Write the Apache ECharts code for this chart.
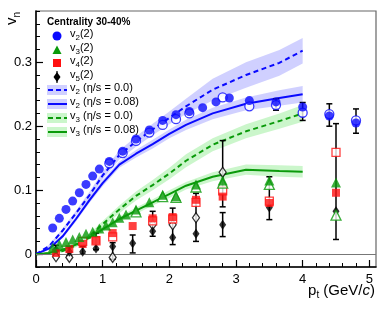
<!DOCTYPE html>
<html>
<head>
<meta charset="utf-8">
<script src="https://cdn.jsdelivr.net/npm/echarts@6/dist/echarts.min.js"></script>
<style>
html,body{margin:0;padding:0;background:#fff;}
#chart{width:386px;height:309px;}
</style>
</head>
<body>
<div id="chart"></div>
<script>
// ---------------- DATA ----------------
const xTickLabels = [0, 1, 2, 3, 4, 5];
const yTickLabels = [0, 0.1, 0.2, 0.3];

// v2{2}
const v2Filled = [[0.25,0.041],[0.35,0.056],[0.45,0.070],[0.55,0.083],[0.65,0.096],[0.75,0.109],[0.85,0.122],[0.95,0.133],[1.1,0.145],[1.3,0.161],[1.5,0.180],[1.7,0.194],[1.9,0.209],[2.1,0.218],[2.3,0.223],[2.5,0.229],[2.7,0.238],[2.9,0.244],[3.2,0.240],[3.6,0.238],[4.0,0.230],[4.4,0.216],[4.8,0.205]];
const v2Open = [[1.1,0.142],[1.3,0.158],[1.5,0.177],[1.7,0.190],[1.9,0.202],[2.1,0.211],[2.3,0.220],[2.8,0.245],[3.2,0.231],[3.6,0.233],[4.0,0.221],[4.4,0.219],[4.8,0.209]];
// v3{2}
const v3Filled = [[0.25,0.010],[0.35,0.015],[0.45,0.019],[0.55,0.023],[0.65,0.027],[0.75,0.032],[0.85,0.035],[0.95,0.040],[1.05,0.045],[1.15,0.050],[1.25,0.057],[1.35,0.062],[1.5,0.070],[1.7,0.081],[1.9,0.093],[2.1,0.091],[2.4,0.109],[2.8,0.115],[3.5,0.115],[4.5,0.112]];
const v3Open = [[1.5,0.066],[1.9,0.090],[2.1,0.089],[2.4,0.105],[2.8,0.111],[3.5,0.109],[4.5,0.061]];
// v4{2}
const v4Filled = [[0.3,0.002],[0.5,0.008],[0.7,0.016],[0.9,0.022],[1.15,0.033],[1.45,0.044],[1.75,0.056],[2.05,0.058],[2.4,0.085],[2.8,0.090],[3.5,0.080],[4.5,0.096]];
const v4Open = [[0.7,0.020],[0.9,0.021],[1.15,0.027],[1.75,0.052],[2.05,0.055],[2.4,0.081],[2.8,0.099],[3.5,0.083],[4.5,0.159]];
// v5{2}
const v5Filled = [[0.3,0.007],[0.5,0.004],[0.7,0.004],[0.9,0.009],[1.15,0.012],[1.45,0.017],[1.75,0.036],[2.05,0.026],[2.4,0.032],[2.8,0.046],[3.5,0.073],[4.5,0.067]];
const v5Open = [[0.3,-0.004],[0.5,-0.005],[1.15,-0.005],[1.75,0.046],[2.05,0.046],[2.4,0.057],[2.8,0.128]];
// error bars [x, low, high]
const errBlack = [[0.3,-0.002,0.014],[0.5,-0.002,0.012],[0.7,0.000,0.012],[0.9,0.007,0.033],[1.15,-0.008,0.018],[1.45,0.002,0.030],[1.75,0.028,0.067],[2.05,0.015,0.072],[2.4,0.020,0.095],[2.8,0.074,0.1775],[2.8,0.0275,0.065],[3.5,0.054,0.121],[4.5,0.023,0.204],[3.6,0.225,0.243],[4.0,0.209,0.237],[4.4,0.200,0.235],[4.8,0.189,0.227]];

// hydro calculations
const thX       = [0, 0.2, 0.4, 0.6, 0.8, 1.0, 1.25, 1.5, 1.75, 2.0, 2.25, 2.65, 3.15, 3.65, 4.0];
const v2Ideal   = [0, 0.013, 0.037, 0.064, 0.092, 0.123, 0.155, 0.176, 0.195, 0.213, 0.231, 0.257, 0.280, 0.299, 0.318];
const v2IdealW  = [0, 0.002, 0.003, 0.004, 0.005, 0.006, 0.007, 0.008, 0.009, 0.010, 0.012, 0.017, 0.020, 0.020, 0.020];
const v2Visc    = [0, 0.009, 0.028, 0.055, 0.084, 0.111, 0.140, 0.157, 0.172, 0.188, 0.202, 0.220, 0.235, 0.244, 0.250];
const v2ViscW   = [0, 0.002, 0.003, 0.004, 0.004, 0.005, 0.005, 0.006, 0.007, 0.007, 0.008, 0.009, 0.010, 0.012, 0.013];
const v3Ideal   = [0, 0.001, 0.005, 0.014, 0.028, 0.047, 0.070, 0.091, 0.108, 0.126, 0.146, 0.171, 0.192, 0.208, 0.220];
const v3IdealW  = [0, 0.001, 0.002, 0.003, 0.004, 0.005, 0.006, 0.007, 0.008, 0.009, 0.010, 0.010, 0.011, 0.012, 0.013];
const v3Visc    = [0, 0.002, 0.007, 0.015, 0.026, 0.039, 0.055, 0.068, 0.081, 0.094, 0.107, 0.121, 0.132, 0.130, 0.129];
const v3ViscW   = [0, 0.001, 0.002, 0.003, 0.003, 0.004, 0.004, 0.005, 0.005, 0.006, 0.006, 0.007, 0.008, 0.009, 0.009];

// ---------------- STYLE ----------------
const BLUE = '#0a0aff', GREEN = '#0a9a0a', RED = '#ff1010', BLACK = '#000';
const BLUE_BAND = 'rgba(150,150,255,0.45)', GREEN_BAND = 'rgba(140,235,140,0.45)';
const FONT = 'Liberation Sans, Arial, Helvetica, sans-serif';

const chart = echarts.init(document.getElementById('chart'), null, {renderer: 'canvas'});

function bandSeries(center, half, color) {
  const rows = thX.map((x, i) => [x, center[i] - half[i], center[i] + half[i]]);
  return {
    type: 'custom', silent: true, z: 1,
    data: rows,
    renderItem: function (params, api) {
      if (params.dataIndex !== 0) return null;
      const up = rows.map(r => api.coord([r[0], r[2]]));
      const lo = rows.map(r => api.coord([r[0], r[1]])).reverse();
      return {type: 'polygon', shape: {points: up.concat(lo)}, style: {fill: color}};
    }
  };
}
function curveSeries(center, color, dashed) {
  return {
    type: 'line', silent: true, z: 3, symbol: 'none',
    data: thX.map((x, i) => [x, center[i]]),
    lineStyle: {color: color, width: 2, type: dashed ? [5, 3.5] : 'solid'}
  };
}
function scatter(data, symbol, size, color, open, z) {
  return {
    type: 'scatter', data: data, symbol: symbol, symbolSize: size, z: z || 6,
    itemStyle: open ? {color: '#fff', borderColor: color, borderWidth: 1.3} : {color: color, borderWidth: 0},
    silent: true
  };
}

const series = [
  bandSeries(v2Ideal, v2IdealW, BLUE_BAND),
  bandSeries(v2Visc, v2ViscW, BLUE_BAND),
  bandSeries(v3Ideal, v3IdealW, GREEN_BAND),
  bandSeries(v3Visc, v3ViscW, GREEN_BAND),
  curveSeries(v2Ideal, BLUE, true),
  curveSeries(v2Visc, BLUE, false),
  curveSeries(v3Ideal, GREEN, true),
  curveSeries(v3Visc, GREEN, false),
  {
    type: 'custom', silent: true, z: 4, data: errBlack,
    renderItem: function (params, api) {
      const x = api.value(0), lo = api.value(1), hi = api.value(2);
      const a = api.coord([x, hi]), b = api.coord([x, lo]);
      const w = 3;
      const st = {stroke: BLACK, lineWidth: 1.5};
      return {type: 'group', children: [
        {type: 'line', shape: {x1: a[0], y1: a[1], x2: b[0], y2: b[1]}, style: st},
        {type: 'line', shape: {x1: a[0] - w, y1: a[1], x2: a[0] + w, y2: a[1]}, style: st},
        {type: 'line', shape: {x1: b[0] - w, y1: b[1], x2: b[0] + w, y2: b[1]}, style: st}
      ]};
    }
  },
  scatter(v5Open, 'diamond', [7, 10], BLACK, true, 5),
  scatter(v5Filled, 'diamond', [7, 10], BLACK, false, 5),
  scatter(v4Open, 'rect', 8, RED, true, 6),
  scatter(v4Filled, 'rect', 8, RED, false, 6),
  scatter(v3Open, 'triangle', 10, GREEN, true, 7),
  scatter(v3Filled, 'triangle', 10, GREEN, false, 7),
  scatter(v2Open, 'circle', 9, BLUE, true, 8),
  scatter(v2Filled, 'circle', 9, BLUE, false, 8),
  {
    type: 'line', data: [], silent: true, z: 2,
    markLine: {silent: true, symbol: 'none', label: {show: false},
      lineStyle: {color: '#777', width: 1, type: 'solid'},
      data: [{yAxis: 0}]}
  }
];

// Legend (drawn as graphic)
const legX = 57, txtX = 70;
const rowsY = [36, 50, 63, 77, 90, 104, 118, 132];
const rich = {
  a: {fontSize: 11, fontFamily: FONT, lineHeight: 16, fill: '#000'},
  b: {fontSize: 8, fontFamily: FONT, lineHeight: 8, verticalAlign: 'bottom', fill: '#000'}
};
function legText(y, str) {
  return {type: 'text', left: txtX, top: y - 8, z: 100,
    style: {text: str, rich: rich, fill: '#000'}};
}
const graphics = [
  {type: 'text', left: 47, top: 17, z: 100, style: {text: 'Centrality 30-40%', font: 'bold 10px ' + FONT, fill: '#000'}},
  // markers
  {type: 'circle', shape: {cx: legX, cy: rowsY[0], r: 4.5}, style: {fill: BLUE}, z: 100},
  {type: 'polygon', shape: {points: [[legX - 4.5, rowsY[1] + 4], [legX + 4.5, rowsY[1] + 4], [legX, rowsY[1] - 4.5]]}, style: {fill: GREEN}, z: 100},
  {type: 'rect', shape: {x: legX - 4, y: rowsY[2] - 4, width: 8, height: 8}, style: {fill: RED}, z: 100},
  {type: 'polygon', shape: {points: [[legX, rowsY[3] - 5], [legX + 3.5, rowsY[3]], [legX, rowsY[3] + 5], [legX - 3.5, rowsY[3]]]}, style: {fill: BLACK}, z: 100},
  {type: 'line', shape: {x1: legX, y1: rowsY[3] - 6, x2: legX, y2: rowsY[3] + 6}, style: {stroke: BLACK, lineWidth: 1.2}, z: 100},
  // bands + lines
  {type: 'rect', shape: {x: 47, y: rowsY[4] - 5, width: 20, height: 10}, style: {fill: BLUE_BAND}, z: 99},
  {type: 'line', shape: {x1: 48, y1: rowsY[4], x2: 67, y2: rowsY[4]}, style: {stroke: BLUE, lineWidth: 2, lineDash: [5, 3]}, z: 100},
  {type: 'rect', shape: {x: 47, y: rowsY[5] - 5, width: 20, height: 10}, style: {fill: BLUE_BAND}, z: 99},
  {type: 'line', shape: {x1: 48, y1: rowsY[5], x2: 67, y2: rowsY[5]}, style: {stroke: BLUE, lineWidth: 2}, z: 100},
  {type: 'rect', shape: {x: 47, y: rowsY[6] - 5, width: 20, height: 10}, style: {fill: GREEN_BAND}, z: 99},
  {type: 'line', shape: {x1: 48, y1: rowsY[6], x2: 67, y2: rowsY[6]}, style: {stroke: GREEN, lineWidth: 2, lineDash: [5, 3]}, z: 100},
  {type: 'rect', shape: {x: 47, y: rowsY[7] - 5, width: 20, height: 10}, style: {fill: GREEN_BAND}, z: 99},
  {type: 'line', shape: {x1: 48, y1: rowsY[7], x2: 67, y2: rowsY[7]}, style: {stroke: GREEN, lineWidth: 2}, z: 100},
  legText(rowsY[0], '{a|v}{b|2}{a|(2)}'),
  legText(rowsY[1], '{a|v}{b|3}{a|(2)}'),
  legText(rowsY[2], '{a|v}{b|4}{a|(2)}'),
  legText(rowsY[3], '{a|v}{b|5}{a|(2)}'),
  legText(rowsY[4], '{a|v}{b|2}{a| (η/s = 0.0)}'),
  legText(rowsY[5], '{a|v}{b|2}{a| (η/s = 0.08)}'),
  legText(rowsY[6], '{a|v}{b|3}{a| (η/s = 0.0)}'),
  legText(rowsY[7], '{a|v}{b|3}{a| (η/s = 0.08)}'),
  // axis titles
  {type: 'text', x: 2, y: 25, rotation: Math.PI / 2, z: 100,
    style: {text: '{a|v}{b|n}', rich: {
      a: {fontSize: 15, fontFamily: FONT, lineHeight: 20, fill: '#000'},
      b: {fontSize: 10, fontFamily: FONT, lineHeight: 10, verticalAlign: 'bottom', fill: '#000'}}}},
  {type: 'text', right: 11, top: 283, z: 100,
    style: {text: '{a|p}{b|t}{a| (GeV/}{i|c}{a|)}', rich: {
      a: {fontSize: 15, fontFamily: FONT, lineHeight: 20, fill: '#000'},
      i: {fontSize: 15, fontFamily: FONT, fontStyle: 'italic', lineHeight: 20, fill: '#000'},
      b: {fontSize: 10, fontFamily: FONT, lineHeight: 10, verticalAlign: 'bottom', fill: '#000'}}}}
];

const minorX = [];
for (let i = 0; i <= 25; i++) minorX.push(+(i * 0.2).toFixed(2));
const minorY = [];
for (let i = -1; i <= 19; i++) minorY.push(+(i * 0.02).toFixed(2));

const grid = {left: 36, top: 11, width: 340, height: 256, show: true, borderColor: '#666', borderWidth: 1.2, backgroundColor: 'transparent'};

const option = {
  animation: false,
  backgroundColor: '#fff',
  grid: grid,
  xAxis: [
    {type: 'value', min: 0, max: 5.1, position: 'bottom',
      axisLine: {show: true, onZero: false, lineStyle: {color: '#000', width: 1.5}},
      axisTick: {show: true, inside: true, length: 7, customValues: xTickLabels, lineStyle: {color: '#000', width: 1.2}},
      axisLabel: {show: true, customValues: xTickLabels, fontSize: 13, fontFamily: FONT, color: '#000', margin: 6},
      splitLine: {show: false}},
    {type: 'value', min: 0, max: 5.1, position: 'bottom',
      axisLine: {show: false, onZero: false},
      axisTick: {show: true, inside: true, length: 4, customValues: minorX, lineStyle: {color: '#000', width: 1}},
      axisLabel: {show: false}, splitLine: {show: false}}
  ],
  yAxis: [
    {type: 'value', min: -0.02, max: 0.38, position: 'left',
      axisLine: {show: true, onZero: false, lineStyle: {color: '#000', width: 1.5}},
      axisTick: {show: true, inside: true, length: 7, customValues: yTickLabels, lineStyle: {color: '#000', width: 1.2}},
      axisLabel: {show: true, customValues: yTickLabels, fontSize: 13, fontFamily: FONT, color: '#000', margin: 4,
        formatter: v => (Math.abs(v) < 1e-9 ? '0' : String(+v.toFixed(2)))},
      splitLine: {show: false}},
    {type: 'value', min: -0.02, max: 0.38, position: 'left',
      axisLine: {show: false, onZero: false},
      axisTick: {show: true, inside: true, length: 4, customValues: minorY, lineStyle: {color: '#000', width: 1}},
      axisLabel: {show: false}, splitLine: {show: false}}
  ],
  graphic: graphics,
  series: series
};
chart.setOption(option);
</script>
</body>
</html>
